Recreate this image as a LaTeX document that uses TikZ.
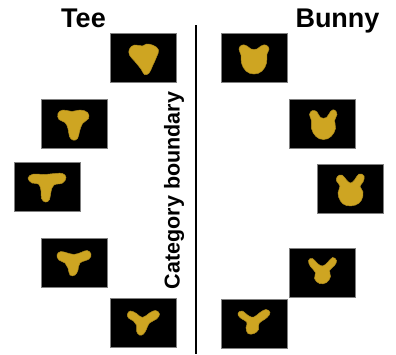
\documentclass[tikz,border=0pt]{standalone}
\usepackage{fontspec}
\setmainfont{Liberation Sans}
\begin{document}
\begin{tikzpicture}[x=1pt,y=-1pt,
  tile/.style={fill=black, draw=black!50, line width=0.7pt,
               minimum width=66pt, minimum height=49pt, inner sep=0pt},
  blob/.style={fill=gold, draw=gold!85!black, line width=0.5pt},
  heading/.style={font=\bfseries\fontsize{27}{30}\selectfont, inner sep=0pt, anchor=base},
  sidelabel/.style={font=\bfseries\fontsize{21.5}{24}\selectfont, inner sep=0pt, anchor=base, rotate=90}]
\definecolor{gold}{RGB}{206,165,34}
\useasboundingbox (0,0) rectangle (396,354);

% headings and boundary label
\node[heading] (tee) at (83.5,27.5) {Tee};
\node[heading] (bunny) at (337.5,27) {Bunny};
\node[sidelabel] (catlabel) at (179.5,190.5) {Category boundary};

% category boundary line
\coordinate (btop) at (196,25);
\coordinate (bbot) at (196,354);
\draw[line width=2.6pt] (btop) -- (bbot);

% stimulus tiles
\node[tile] (L1) at (143.5,58) {};
\node[tile] (L2) at (74,123.5) {};
\node[tile] (L3) at (47.5,186.5) {};
\node[tile] (L4) at (74,263) {};
\node[tile] (L5) at (143.5,323) {};
\node[tile] (R1) at (254,58) {};
\node[tile] (R2) at (322.5,123.5) {};
\node[tile] (R3) at (350.5,189) {};
\node[tile] (R4) at (322.5,272.5) {};
\node[tile] (R5) at (254,323.5) {};

% shapes: rounded trefoil
\begin{scope}[shift={(L1)}]
\fill[blob] plot[smooth cycle, tension=0.7] coordinates {(-14,-9) (-9,-13) (-1,-12) (3,-14) (10,-12.5) (15,-8) (13,-1) (9,8) (5.5,15) (1,16.5) (-2.5,11) (-9,3) (-14,-3)};
\end{scope}
% tapered tee
\begin{scope}[shift={(L2)}]
\fill[blob] plot[smooth cycle, tension=0.7] coordinates {(-16,-10) (-11,-13.5) (-2,-12) (6,-13.5) (13.5,-11) (14.5,-5) (8.5,0) (5.5,8) (3.5,15) (-1,16.5) (-4.5,13) (-6,5) (-9,-1) (-15,-4)};
\end{scope}
% tee
\begin{scope}[shift={(L3)}]
\fill[blob] plot[smooth cycle, tension=0.7] coordinates {(-19.5,-8.5) (-14,-12.5) (-4,-12) (8,-13) (15,-13) (18.5,-9) (15,-3.5) (6.5,-1.5) (3.5,5) (2,13) (-2,15.5) (-6,12) (-6.5,4) (-9,-2.5) (-15.5,-3.5)};
\end{scope}
% flattened wye
\begin{scope}[shift={(L4)}]
\fill[blob] plot[smooth cycle, tension=0.7] coordinates {(-17,-8) (-13,-11.5) (-5,-9.5) (0,-8.5) (7,-10.5) (13,-12.5) (17,-9) (15,-4) (6,0) (4,7) (1,12) (-4,12) (-6,5) (-9,0) (-15,-3)};
\end{scope}
% wye
\begin{scope}[shift={(L5)}]
\fill[blob] plot[smooth cycle, tension=0.7] coordinates {(-16,-9) (-13,-12) (-7,-9.5) (-1,-5.5) (6,-10) (12,-12.5) (16,-9) (13,-4) (6,0) (3,6) (0,11) (-4,12) (-7,8) (-7,2) (-10,-2) (-15,-5)};
\end{scope}
% bear head
\begin{scope}[shift={(R1)}]
\fill[blob] plot[smooth cycle, tension=0.7] coordinates {(-15,-9) (-12,-13) (-7,-12) (-3,-9) (3,-9) (7,-12) (12,-13) (15,-9) (13,-4) (12.5,5) (8,13) (0,16) (-8,13) (-12.5,5) (-13,-3)};
\end{scope}
% short-eared head
\begin{scope}[shift={(R2)}]
\fill[blob] plot[smooth cycle, tension=0.7] coordinates {(-13,-9) (-10,-13) (-5.5,-11.5) (-2,-6) (4,-6) (8,-12) (12,-13.5) (14.5,-9) (12,-3) (13,5) (8.5,13) (1,16) (-6.5,13) (-11,5) (-11,-3)};
\end{scope}
% bunny
\begin{scope}[shift={(R3)}]
\fill[blob] plot[smooth cycle, tension=0.7] coordinates {(-13,-12.5) (-8.5,-14) (-4,-9) (0,-6) (4,-9) (8.5,-15) (13.5,-13) (12.5,-7) (9.5,-2.5) (12.5,3) (11,11) (5,16) (-4,16.5) (-10,12) (-12.5,4) (-10.5,-3) (-14,-8)};
\end{scope}
% spread-eared bunny
\begin{scope}[shift={(R4)}]
\fill[blob] plot[smooth cycle, tension=0.7] coordinates {(-14,-12) (-10,-14) (-5,-9) (0,-6.5) (5,-10) (10,-15) (14,-12) (12,-7) (7,-2) (8,4) (4,10) (-3,11) (-8,6) (-7,0) (-12,-6)};
\end{scope}
% wye with round base
\begin{scope}[shift={(R5)}]
\fill[blob] plot[smooth cycle, tension=0.7] coordinates {(-16,-10) (-12,-12.5) (-5,-7.5) (0,-6.5) (6,-11) (12,-14) (16,-11) (13,-6) (5,0) (4.5,6) (0,10) (-6,10) (-8,4) (-7,-1) (-14,-6)};
\end{scope}
\end{tikzpicture}
\end{document}
